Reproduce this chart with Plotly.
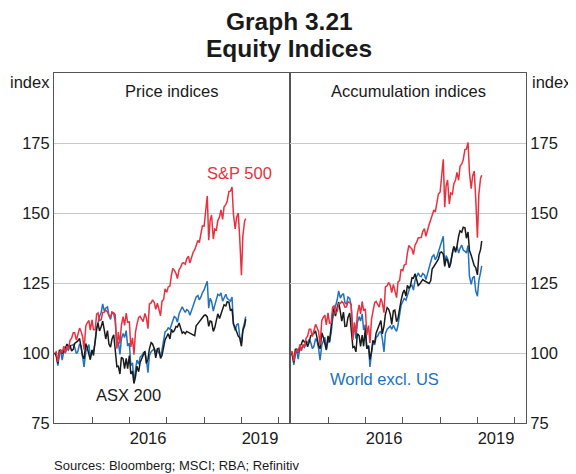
import plotly.graph_objects as go

# semi-monthly observation dates, Jan 2014 - Feb 2019
dates = [f"{y}-{m:02d}-{d:02d}" for y in range(2014, 2019) for m in range(1, 13) for d in (1, 15)]
dates += ["2019-01-01", "2019-01-15", "2019-02-01", "2019-02-12"]

# ---- Price indices (Jan 2014 = 100) ----
sp500_price = [
    100.0, 100.4, 96.8, 99.9, 101.0, 100.1, 102.4, 100.1, 102.4, 101.6, 104.6, 105.3,
    107.2, 107.2, 104.6, 106.3, 108.9, 107.8, 105.8, 101.2, 109.7, 110.8, 111.6, 108.2,
    111.8, 108.3, 108.4, 113.9, 114.3, 111.6, 111.9, 114.5, 114.6, 115.3, 114.7, 113.3,
    112.9, 114.6, 114.3, 113.7, 101.5, 107.5, 103.3, 109.9, 113.0, 109.9, 114.2, 111.0,
    111.1, 102.2, 105.4, 99.4, 107.5, 110.2, 112.7, 113.1, 112.2, 111.2, 114.1, 112.6,
    108.7, 117.5, 117.9, 119.0, 118.0, 115.6, 117.8, 115.9, 113.3, 118.5, 119.1, 122.9,
    121.7, 123.6, 123.9, 127.7, 130.2, 129.6, 128.4, 126.6, 129.8, 130.5, 132.1, 132.2,
    131.7, 133.6, 134.6, 132.1, 134.6, 135.9, 136.9, 138.8, 140.2, 139.4, 143.6, 145.4,
    145.3, 151.4, 156.1, 140.3, 147.4, 149.3, 140.7, 144.3, 143.9, 147.3, 148.6, 151.1,
    147.7, 152.2, 153.0, 154.3, 157.7, 157.8, 159.3, 149.5, 144.3, 148.4, 150.0, 141.3,
    127.8, 141.8, 147.1, 148.0,
]
asx200_price = [
    100.0, 99.3, 96.3, 100.9, 101.0, 99.8, 100.9, 101.7, 103.2, 102.4, 102.6, 100.7,
    101.3, 103.4, 103.9, 104.3, 105.2, 102.8, 98.9, 97.9, 103.4, 101.9, 99.3, 97.6,
    101.1, 99.1, 104.5, 109.0, 110.7, 107.9, 109.5, 111.4, 108.2, 105.0, 108.0, 103.2,
    102.1, 105.0, 106.5, 100.0, 95.1, 95.3, 92.5, 98.5, 97.9, 94.4, 98.1, 94.4,
    99.1, 92.5, 93.5, 89.1, 91.6, 95.3, 93.3, 96.6, 98.1, 99.1, 100.6, 96.3,
    97.8, 101.5, 103.7, 103.2, 101.5, 98.3, 101.5, 101.7, 98.1, 99.1, 102.8, 104.7,
    105.9, 106.9, 105.0, 108.4, 107.5, 107.9, 109.5, 109.3, 110.7, 109.0, 107.1, 107.5,
    106.9, 107.7, 107.3, 107.1, 106.7, 106.5, 106.2, 109.7, 110.5, 111.2, 112.0, 112.7,
    113.4, 113.6, 112.9, 109.5, 111.4, 111.2, 107.7, 109.0, 112.1, 114.0, 112.3, 114.0,
    115.7, 117.2, 116.8, 118.3, 118.1, 115.1, 115.7, 110.3, 109.0, 107.3, 106.0, 105.4,
    102.4, 108.0, 109.7, 112.1,
]
world_price = [
    100.0, 99.0, 95.5, 99.5, 100.5, 97.5, 100.8, 100.2, 101.5, 101.0, 102.5, 102.8,
    103.0, 102.0, 99.8, 100.5, 103.2, 102.5, 99.0, 95.0, 100.5, 101.8, 103.0, 98.5,
    101.0, 100.5, 104.0, 108.5, 111.5, 113.0, 114.5, 117.5, 115.0, 116.0, 116.5, 113.5,
    112.0, 114.5, 114.0, 111.5, 102.5, 104.0, 99.5, 105.0, 107.0, 105.5, 108.0, 102.5,
    103.5, 95.5, 96.5, 89.3, 94.0, 97.5, 96.0, 98.5, 99.0, 100.0, 100.5, 98.0,
    93.0, 99.0, 100.5, 101.0, 101.5, 100.5, 101.0, 100.0, 99.0, 101.0, 104.0, 107.5,
    108.0, 109.0, 108.5, 110.0, 112.0, 113.0, 112.5, 111.0, 114.0, 115.0, 116.5, 115.5,
    114.5, 115.5, 115.0, 113.5, 115.5, 117.5, 118.5, 120.0, 120.5, 119.0, 120.0, 121.5,
    122.5, 124.0, 125.6, 116.0, 119.5, 118.5, 115.0, 117.0, 119.5, 121.0, 120.5, 121.5,
    118.5, 120.0, 121.0, 119.5, 119.0, 118.5, 120.0, 110.5, 108.0, 110.0, 110.5, 106.0,
    103.7, 108.5, 111.0, 113.0,
]

# ---- Accumulation indices (Jan 2014 = 100) ----
sp500_accum = [
    100.0, 100.6, 97.0, 100.1, 101.2, 100.3, 103.1, 100.8, 103.1, 102.3, 105.3, 106.0,
    108.5, 108.5, 105.9, 107.6, 110.2, 109.1, 107.6, 102.9, 111.6, 112.7, 113.5, 110.0,
    114.3, 110.7, 110.8, 116.4, 116.8, 114.1, 114.9, 117.6, 117.7, 118.4, 117.8, 116.4,
    116.5, 118.3, 118.0, 117.3, 104.7, 110.9, 107.1, 114.0, 117.2, 114.0, 118.4, 115.1,
    115.8, 106.5, 109.8, 103.6, 112.0, 114.8, 118.0, 118.4, 117.5, 116.4, 119.5, 117.9,
    114.4, 123.6, 124.0, 125.2, 124.1, 121.6, 124.5, 122.5, 119.8, 125.3, 125.9, 129.9,
    129.4, 131.4, 131.7, 135.7, 138.4, 137.8, 137.1, 135.2, 138.6, 139.4, 141.1, 141.2,
    141.3, 143.4, 144.4, 141.7, 144.4, 145.8, 147.6, 149.6, 151.1, 150.3, 154.8, 156.7,
    157.5, 164.1, 169.2, 152.1, 159.8, 161.8, 153.2, 157.1, 156.7, 160.4, 161.8, 164.5,
    161.7, 166.7, 167.5, 169.0, 172.7, 172.8, 175.2, 164.5, 158.7, 163.2, 165.0, 155.4,
    141.2, 156.7, 162.5, 163.5,
]
asx200_accum = [
    100.0, 99.7, 96.7, 101.3, 101.4, 100.2, 102.4, 103.2, 104.7, 103.9, 104.1, 102.2,
    103.9, 106.1, 106.6, 107.0, 107.9, 105.5, 102.6, 101.5, 107.2, 105.7, 103.0, 101.2,
    106.1, 104.0, 109.6, 114.3, 116.1, 113.2, 116.2, 118.2, 114.8, 111.4, 114.6, 109.5,
    109.6, 112.7, 114.3, 107.3, 102.0, 102.3, 100.4, 106.9, 106.2, 102.4, 106.4, 102.4,
    108.7, 101.5, 102.6, 97.7, 100.5, 104.5, 103.5, 107.1, 108.8, 109.9, 111.6, 106.8,
    109.6, 113.8, 116.2, 115.7, 113.8, 110.2, 115.1, 115.3, 111.2, 112.4, 116.6, 118.7,
    121.4, 122.5, 120.3, 124.2, 123.2, 123.7, 126.9, 126.7, 128.3, 126.3, 124.1, 124.6,
    125.3, 126.2, 125.8, 125.5, 125.1, 124.8, 125.8, 130.0, 130.9, 131.8, 132.7, 133.5,
    135.9, 136.1, 135.3, 131.2, 133.5, 133.2, 130.4, 132.0, 135.8, 138.1, 136.0, 138.1,
    141.7, 143.6, 143.1, 144.9, 144.7, 141.0, 143.2, 136.6, 134.9, 132.8, 131.2, 130.5,
    127.9, 134.9, 137.0, 140.0,
]
world_accum = [
    100.0, 99.3, 95.8, 99.8, 100.8, 97.8, 101.8, 101.2, 102.5, 102.0, 103.5, 103.8,
    104.9, 103.8, 101.6, 102.3, 105.1, 104.3, 101.5, 97.4, 103.0, 104.3, 105.6, 101.0,
    104.3, 103.8, 107.4, 112.1, 115.2, 116.7, 119.1, 122.2, 119.6, 120.6, 121.2, 118.0,
    117.4, 120.0, 119.5, 116.9, 107.4, 109.0, 105.1, 110.9, 113.0, 111.4, 114.0, 108.2,
    110.1, 101.6, 102.7, 95.0, 100.0, 103.7, 102.9, 105.6, 106.1, 107.2, 107.7, 105.1,
    100.4, 106.9, 108.5, 109.1, 109.6, 108.5, 109.9, 108.8, 107.7, 109.9, 113.2, 117.0,
    118.4, 119.5, 118.9, 120.6, 122.8, 123.8, 124.2, 122.5, 125.9, 127.0, 128.6, 127.5,
    127.3, 128.4, 127.9, 126.2, 128.4, 130.7, 132.7, 134.4, 135.0, 133.3, 134.4, 136.1,
    138.2, 139.9, 141.7, 130.8, 134.8, 133.7, 130.8, 133.0, 135.9, 137.6, 137.0, 138.1,
    135.7, 137.4, 138.5, 136.8, 136.3, 135.7, 138.4, 127.4, 124.5, 126.8, 127.4, 122.2,
    120.3, 125.9, 128.8, 131.1,
]

y_ticks = [75, 100, 125, 150, 175]
year_ticks = ["2015-01-01", "2016-01-01", "2017-01-01", "2018-01-01", "2019-01-01", "2020-01-01"]
x_labels = ["2016", "2019"]
x_label_pos = ["2016-07-02", "2019-07-02"]

RED = "#e8313f"
BLUE = "#2272bd"
BLACK = "#1a1a1a"
FONT = "Liberation Sans, Arial, sans-serif"
AXC = "#555555"

fig = go.Figure()
series = [
    ("x", "y", world_price, BLUE), ("x", "y", asx200_price, BLACK), ("x", "y", sp500_price, RED),
    ("x2", "y2", world_accum, BLUE), ("x2", "y2", asx200_accum, BLACK), ("x2", "y2", sp500_accum, RED),
]
for xa, ya, vals, col in series:
    fig.add_trace(go.Scatter(x=dates, y=vals, xaxis=xa, yaxis=ya, mode="lines",
                             line=dict(color=col, width=1.5), showlegend=False,
                             hoverinfo="skip"))

xcommon = dict(type="date", range=["2013-12-25", "2020-04-20"],
               tickvals=x_label_pos, ticktext=x_labels, ticks="",
               minor=dict(tickvals=year_ticks, ticks="inside", ticklen=6,
                          tickcolor=AXC, showgrid=False),
               showgrid=False, zeroline=False, showline=True, linecolor=AXC, linewidth=1,
               mirror=True, tickfont=dict(size=16.5, color="#1a1a1a", family=FONT))
ycommon = dict(range=[75, 200], tickvals=y_ticks, showgrid=True, gridcolor="#c9c9c9",
               gridwidth=1, zeroline=False, showline=True, linecolor=AXC, linewidth=1,
               mirror=True, ticks="", tickfont=dict(size=16.5, color="#1a1a1a", family=FONT))

# page body has an 8px margin, so the figure is sized/offset to compensate
fig.update_layout(
    width=568, height=466,
    margin=dict(l=46, r=50, t=65, b=51),
    paper_bgcolor="white", plot_bgcolor="white",
    font=dict(family=FONT, color="#1a1a1a"),
    xaxis=dict(domain=[0, 0.5], anchor="y", **xcommon),
    xaxis2=dict(domain=[0.5, 1], anchor="y2", **xcommon),
    yaxis=dict(anchor="x", side="left", **ycommon),
    yaxis2=dict(anchor="x2", side="right", **ycommon),
)

ann = [
    dict(text="<b>Graph 3.21</b>", x=0.498, y=1.148, font=dict(size=24.5)),
    dict(text="<b>Equity Indices</b>", x=0.498, y=1.071, font=dict(size=24.5)),
    dict(text="Price indices", x=0.25, y=0.948, font=dict(size=16.5)),
    dict(text="Accumulation indices", x=0.752, y=0.948, font=dict(size=16.5)),
    dict(text="index", x=0, y=0.975, xanchor="right", xshift=-2, font=dict(size=16.5)),
    dict(text="index", x=1, y=0.975, xanchor="left", xshift=4, font=dict(size=16.5)),
    dict(text="S&P 500", x=0.394, y=0.714, font=dict(size=16.5, color=RED)),
    dict(text="ASX 200", x=0.157, y=0.08, font=dict(size=16.5, color=BLACK)),
    dict(text="World excl. US", x=0.701, y=0.126, font=dict(size=16.5, color=BLUE)),
    dict(text="Sources: Bloomberg; MSCI; RBA; Refinitiv", x=-0.004, y=-0.12,
         xanchor="left", font=dict(size=13)),
]
for a in ann:
    base = dict(xref="paper", yref="paper", showarrow=False, xanchor="center", yanchor="middle")
    base.update(a)
    fig.add_annotation(**base)

fig.write_html("out.html")
